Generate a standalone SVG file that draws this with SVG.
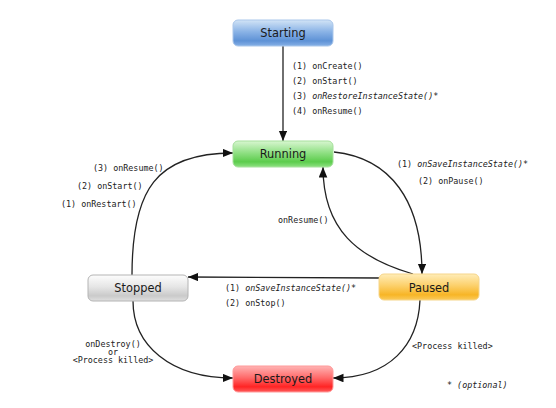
<svg xmlns="http://www.w3.org/2000/svg" width="556" height="408" viewBox="0 0 556 408">
<style>
.box{stroke-width:1}
.name{font-family:"DejaVu Sans",sans-serif;font-size:11.4px;fill:#1a1a1a;text-anchor:middle}
.lbl{font-family:"DejaVu Sans Mono",monospace;font-size:8.4px;fill:#222}
.it{font-style:italic}
.mid{text-anchor:middle}
.edge{fill:none;stroke:#222;stroke-width:1.3}
</style>
<defs>
<marker id="arr" markerUnits="userSpaceOnUse" markerWidth="11" markerHeight="9" refX="10.5" refY="4.3" orient="auto">
<path d="M0,0 L10.5,4.3 L0,8.6 z" fill="#111"/>
</marker>
<linearGradient id="gBlue" x1="0" y1="0" x2="0" y2="1">
<stop offset="0" stop-color="#d2e4f6"/><stop offset="0.45" stop-color="#8ab3e6"/><stop offset="0.8" stop-color="#5e92d6"/><stop offset="1" stop-color="#86b0e6"/>
</linearGradient>
<linearGradient id="gGreen" x1="0" y1="0" x2="0" y2="1">
<stop offset="0" stop-color="#d8f6d0"/><stop offset="0.45" stop-color="#90e084"/><stop offset="0.8" stop-color="#5ccc4c"/><stop offset="1" stop-color="#8ee182"/>
</linearGradient>
<linearGradient id="gGrey" x1="0" y1="0" x2="0" y2="1">
<stop offset="0" stop-color="#fdfdfd"/><stop offset="0.45" stop-color="#e6e6e6"/><stop offset="0.8" stop-color="#cacaca"/><stop offset="1" stop-color="#e0e0e0"/>
</linearGradient>
<linearGradient id="gYellow" x1="0" y1="0" x2="0" y2="1">
<stop offset="0" stop-color="#ffedb8"/><stop offset="0.45" stop-color="#fcd06a"/><stop offset="0.8" stop-color="#f7b526"/><stop offset="1" stop-color="#fbcb5c"/>
</linearGradient>
<linearGradient id="gRed" x1="0" y1="0" x2="0" y2="1">
<stop offset="0" stop-color="#ffb4b4"/><stop offset="0.45" stop-color="#ff6a6a"/><stop offset="0.8" stop-color="#ff2424"/><stop offset="1" stop-color="#ff5c5c"/>
</linearGradient>
</defs>
<rect width="556" height="408" fill="#fff"/>

<g id="connectors">
<path class="edge" d="M283,46 L283,141" marker-end="url(#arr)"/>
<path class="edge" d="M334,152 C390,158 422,200 422,274" marker-end="url(#arr)"/>
<path class="edge" d="M413,274 C358,258 323,230 323,167" marker-end="url(#arr)"/>
<path class="edge" d="M379,278 L188,277" marker-end="url(#arr)"/>
<path class="edge" d="M132,275 C132,190 156,153 233,153" marker-end="url(#arr)"/>
<path class="edge" d="M133,301 C133,345 170,378 233,378" marker-end="url(#arr)"/>
<path class="edge" d="M420,300 C418,345 390,378 333,378" marker-end="url(#arr)"/>

<text class="lbl" x="292" y="69">(1) onCreate()</text>
<text class="lbl" x="292" y="84">(2) onStart()</text>
<text class="lbl" x="292" y="99">(3) <tspan class="it">onRestoreInstanceState()</tspan>*</text>
<text class="lbl" x="292" y="114">(4) onResume()</text>

<text class="lbl" x="93" y="171">(3) onResume()</text>
<text class="lbl" x="77" y="189">(2) onStart()</text>
<text class="lbl" x="61" y="207">(1) onRestart()</text>

<text class="lbl" x="397" y="166.5">(1) <tspan class="it">onSaveInstanceState()</tspan>*</text>
<text class="lbl" x="418" y="183.5">(2) onPause()</text>

<text class="lbl" x="278" y="223">onResume()</text>

<text class="lbl" x="225" y="291">(1) <tspan class="it">onSaveInstanceState()</tspan>*</text>
<text class="lbl" x="225" y="306">(2) onStop()</text>

<text class="lbl mid" x="113" y="346.5">onDestroy()</text>
<text class="lbl mid" x="113" y="354.5">or</text>
<text class="lbl mid" x="113" y="362.5">&lt;Process killed&gt;</text>

<text class="lbl" x="412" y="349">&lt;Process killed&gt;</text>
</g>

<g id="starting">
<rect class="box" x="233" y="20" width="100" height="26" rx="5" fill="url(#gBlue)" stroke="#a9c6ea"/>
<text class="name" x="283" y="37">Starting</text>
</g>
<g id="running">
<rect class="box" x="233" y="141" width="100" height="26" rx="5" fill="url(#gGreen)" stroke="#a6e09c"/>
<text class="name" x="283" y="157.5">Running</text>
</g>
<g id="stopped">
<rect class="box" x="88" y="275" width="100" height="26" rx="5" fill="url(#gGrey)" stroke="#b4b4b4"/>
<text class="name" x="138" y="291.5">Stopped</text>
</g>
<g id="paused">
<rect class="box" x="379" y="274" width="100" height="26" rx="5" fill="url(#gYellow)" stroke="#f6d58a"/>
<text class="name" x="429" y="291.5">Paused</text>
</g>
<g id="destroyed">
<rect class="box" x="233" y="366" width="100" height="26" rx="5" fill="url(#gRed)" stroke="#ff9a9a"/>
<text class="name" x="283" y="383">Destroyed</text>
</g>

<text class="lbl" x="447" y="387.5">* <tspan class="it">(optional)</tspan></text>
</svg>
